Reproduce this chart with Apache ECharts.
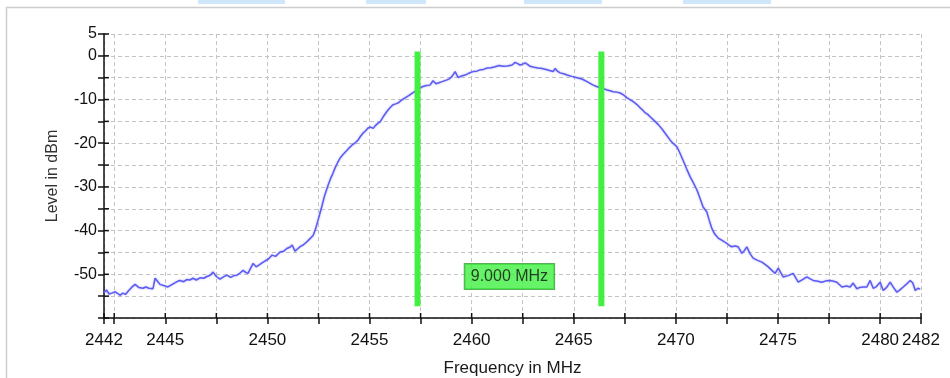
<!DOCTYPE html>
<html>
<head>
<meta charset="utf-8">
<script src="https://cdn.jsdelivr.net/npm/echarts@6/dist/echarts.min.js"></script>
<style>
  html, body { margin: 0; padding: 0; background: #ffffff; }
  #chart { width: 950px; height: 378px; }
</style>
</head>
<body>
<div id="chart"></div>
<script>
// Measured spectrum trace: frequency (MHz) and level (dBm)
const freqMHz = [
  2442.00, 2442.12, 2442.25, 2442.38, 2442.55, 2442.68, 2442.78, 2442.92, 2443.05, 2443.19,
  2443.35, 2443.52, 2443.70, 2443.91, 2444.05, 2444.20, 2444.40, 2444.50, 2444.62, 2444.74,
  2444.95, 2445.13, 2445.30, 2445.45, 2445.60, 2445.72, 2445.90, 2446.05, 2446.20, 2446.36,
  2446.52, 2446.70, 2446.88, 2447.04, 2447.20, 2447.34, 2447.50, 2447.68, 2447.85, 2448.02,
  2448.20, 2448.36, 2448.51, 2448.66, 2448.81, 2448.95, 2449.05, 2449.18, 2449.30, 2449.45,
  2449.58, 2449.74, 2449.90, 2450.05, 2450.23, 2450.40, 2450.62, 2450.80, 2450.95, 2451.10,
  2451.21, 2451.35, 2451.50, 2451.62, 2451.75, 2451.90, 2452.05, 2452.24, 2452.36, 2452.48,
  2452.58, 2452.68, 2452.80, 2452.97, 2453.10, 2453.20, 2453.31, 2453.44, 2453.56, 2453.70,
  2453.90, 2454.02, 2454.15, 2454.30, 2454.44, 2454.56, 2454.68, 2454.80, 2454.93, 2455.05,
  2455.18, 2455.30, 2455.42, 2455.52, 2455.66, 2455.84, 2456.00, 2456.15, 2456.28, 2456.40,
  2456.55, 2456.74, 2456.92, 2457.13, 2457.25, 2457.38, 2457.50, 2457.62, 2457.78, 2457.96,
  2458.11, 2458.25, 2458.36, 2458.55, 2458.80, 2458.92, 2459.04, 2459.19, 2459.34, 2459.50,
  2459.68, 2459.85, 2460.07, 2460.25, 2460.41, 2460.58, 2460.76, 2460.95, 2461.15, 2461.35,
  2461.54, 2461.75, 2461.98, 2462.13, 2462.25, 2462.37, 2462.50, 2462.62, 2462.75, 2462.86,
  2463.05, 2463.25, 2463.45, 2463.69, 2463.85, 2463.99, 2464.09, 2464.20, 2464.33, 2464.50,
  2464.67, 2464.90, 2465.16, 2465.40, 2465.65, 2465.80, 2465.95, 2466.12, 2466.29, 2466.45,
  2466.63, 2466.78, 2466.93, 2467.10, 2467.27, 2467.45, 2467.61, 2467.75, 2467.91, 2468.08,
  2468.25, 2468.37, 2468.49, 2468.62, 2468.75, 2468.98, 2469.15, 2469.33, 2469.50, 2469.72,
  2469.88, 2470.05, 2470.20, 2470.35, 2470.52, 2470.70, 2470.85, 2471.03, 2471.18, 2471.33,
  2471.51, 2471.63, 2471.76, 2471.90, 2472.07, 2472.28, 2472.49, 2472.62, 2472.74, 2472.90,
  2473.05, 2473.23, 2473.35, 2473.47, 2473.62, 2473.78, 2474.00, 2474.21, 2474.38, 2474.52,
  2474.70, 2474.86, 2475.01, 2475.25, 2475.50, 2475.74, 2475.99, 2476.20, 2476.41, 2476.55,
  2476.72, 2476.95, 2477.15, 2477.35, 2477.55, 2477.72, 2477.88, 2478.13, 2478.35, 2478.53,
  2478.68, 2478.86, 2479.00, 2479.17, 2479.35, 2479.51, 2479.66, 2479.82, 2480.00, 2480.15,
  2480.32, 2480.49, 2480.65, 2480.82, 2480.98, 2481.13, 2481.30, 2481.47, 2481.60, 2481.72,
  2481.85, 2481.96
];
const levelDbm = [
  -54.2, -53.6, -54.5, -54.3, -54.0, -54.4, -54.8, -54.3, -54.6, -53.8,
  -53.0, -52.3, -53.0, -53.2, -52.9, -53.2, -53.3, -50.9, -51.6, -52.3,
  -52.6, -52.9, -52.4, -52.0, -51.6, -51.4, -51.7, -51.2, -51.3, -50.9,
  -51.3, -50.8, -50.9, -50.5, -50.2, -49.5, -50.5, -51.1, -50.6, -50.2,
  -50.7, -50.3, -50.2, -49.7, -49.1, -49.6, -49.8, -48.6, -47.5, -48.3,
  -47.9, -47.4, -46.9, -46.5, -45.6, -45.9, -44.9, -44.7, -44.1, -43.8,
  -43.3, -44.7, -44.1, -43.6, -43.3, -42.7, -42.0, -41.1, -39.6, -37.6,
  -35.9, -34.2, -32.0, -29.6, -28.0, -27.0, -25.7, -24.4, -23.4, -22.6,
  -21.6, -21.0, -20.4, -19.9, -19.3, -18.4, -17.7, -17.2, -16.5, -16.3,
  -16.6, -15.9, -15.4, -15.1, -14.0, -12.8, -11.9, -11.2, -11.0, -10.8,
  -10.2, -9.6, -9.1, -8.4, -8.1, -7.6, -7.3, -7.0, -6.8, -6.7,
  -5.7, -6.4, -6.2, -5.9, -5.5, -5.2, -4.7, -3.6, -5.0, -4.6,
  -4.4, -4.0, -3.6, -3.5, -3.2, -3.1, -2.8, -2.7, -2.5, -2.2,
  -2.4, -2.3, -2.1, -1.5, -1.8, -2.1, -1.9, -1.6, -2.0, -2.4,
  -2.6, -2.8, -2.9, -3.2, -3.4, -3.6, -2.9, -3.5, -3.9, -4.1,
  -4.4, -4.7, -5.0, -5.3, -5.9, -6.3, -6.7, -7.0, -7.3, -7.5,
  -7.8, -8.0, -8.2, -8.3, -8.5, -9.0, -9.6, -10.0, -10.5, -11.1,
  -11.9, -12.4, -13.0, -13.4, -14.0, -15.0, -15.8, -16.8, -17.9, -19.3,
  -20.1, -20.8, -22.3, -23.9, -25.8, -27.7, -29.0, -30.7, -32.6, -34.6,
  -35.7, -37.6, -39.5, -40.8, -41.7, -42.3, -42.9, -43.4, -43.7, -43.5,
  -43.7, -45.2, -44.6, -43.7, -45.2, -46.3, -46.8, -47.2, -47.8, -48.3,
  -49.1, -49.8, -48.6, -50.6, -50.3, -49.8, -51.8, -51.2, -50.6, -51.0,
  -51.4, -51.6, -51.8, -51.5, -51.4, -51.6, -51.8, -52.9, -52.7, -52.9,
  -52.0, -53.3, -53.0, -52.9, -52.9, -51.4, -53.2, -52.8, -51.8, -53.7,
  -53.0, -51.8, -53.0, -54.1, -53.5, -52.9, -52.2, -51.4, -52.0, -53.7,
  -53.2, -53.4
];

// Bandwidth markers (MHz) and their vertical extent (dBm)
const markerFreqs = [2457.35, 2466.35];
const markerTop = 1.0;
const markerBottom = -57.3;
const spanText = '9.000 MHz';
const spanLabelLevel = -50.5;

// Axis ranges, ticks and labels
const xMin = 2442, xMax = 2482;
const xTickValues = [2442, 2442.5, 2445, 2447.5, 2450, 2452.5, 2455, 2457.5, 2460, 2462.5,
  2465, 2467.5, 2470, 2472.5, 2475, 2477.5, 2480, 2482];
const xLabelValues = [2442, 2445, 2450, 2455, 2460, 2465, 2470, 2475, 2480, 2482];
const yMin = -60, yMax = 5, yStep = 5;
const yTickValues = [5, 0, -5, -10, -15, -20, -25, -30, -35, -40, -45, -50, -55, -60];
const yLabelValues = [5, 0, -10, -20, -30, -40, -50];

const FONT = '"Liberation Sans", Arial, sans-serif';
const chart = echarts.init(document.getElementById('chart'), null, { renderer: 'canvas' });

const trace = freqMHz.map((f, i) => [f, levelDbm[i]]);
const spanCenter = (markerFreqs[0] + markerFreqs[1]) / 2;

const gridLine = { show: true, lineStyle: { color: '#c4c4c4', width: 1, type: [4, 3] } };
const tickStyle = { stroke: '#111', lineWidth: 1.5 };
const INNER_TICK = 5;

// Tick stubs on the plot side of both axes, so every tick crosses its axis line
function innerTicks(params, api) {
  const children = [];
  xTickValues.forEach(v => {
    const p = api.coord([v, yMin]);
    children.push({ type: 'line', shape: { x1: p[0], y1: p[1], x2: p[0], y2: p[1] - INNER_TICK }, style: tickStyle });
  });
  yTickValues.forEach(v => {
    const p = api.coord([xMin, v]);
    children.push({ type: 'line', shape: { x1: p[0], y1: p[1], x2: p[0] + INNER_TICK, y2: p[1] }, style: tickStyle });
  });
  return { type: 'group', children };
}

chart.setOption({
  animation: false,
  backgroundColor: '#ffffff',
  graphic: [
    // window strip along the top edge
    { type: 'rect', shape: { x: 198, y: 0, width: 87, height: 4 }, style: { fill: '#cfe6fb' }, silent: true },
    { type: 'rect', shape: { x: 366, y: 0, width: 60, height: 4 }, style: { fill: '#cfe6fb' }, silent: true },
    { type: 'rect', shape: { x: 524, y: 0, width: 78, height: 4 }, style: { fill: '#cfe6fb' }, silent: true },
    { type: 'rect', shape: { x: 683, y: 0, width: 88, height: 4 }, style: { fill: '#cfe6fb' }, silent: true },
    // panel frame
    { type: 'rect', shape: { x: 6.5, y: 7.5, width: 1000, height: 500 },
      style: { fill: 'none', stroke: '#cdcdcd', lineWidth: 1.5 }, silent: true }
  ],
  grid: { left: 104, right: 29, top: 34, bottom: 60, containLabel: false, outerBoundsMode: 'none' },
  xAxis: {
    type: 'value', position: 'bottom', min: xMin, max: xMax,
    name: 'Frequency in MHz', nameLocation: 'middle', nameGap: 42,
    nameTextStyle: { fontFamily: FONT, fontSize: 17, color: '#1a1a1a' },
    axisLine: { show: true, onZero: false, lineStyle: { color: '#111', width: 1.5 } },
    axisTick: { show: true, inside: false, length: 6, customValues: xTickValues,
      lineStyle: { color: '#111', width: 1.5 } },
    axisLabel: { show: true, customValues: xLabelValues, margin: 14,
      fontFamily: FONT, fontSize: 17, color: '#111',
      formatter: v => String(v),
      showMinLabel: true, showMaxLabel: true, hideOverlap: false },
    splitLine: gridLine
  },
  yAxis: {
    type: 'value', position: 'left', min: yMin, max: yMax, interval: yStep,
    name: 'Level in dBm', nameLocation: 'middle', nameGap: 43, nameRotate: 90,
    nameTextStyle: { fontFamily: FONT, fontSize: 16, color: '#333' },
    axisLine: { show: true, onZero: false, lineStyle: { color: '#111', width: 1.5 } },
    axisTick: { show: true, inside: false, length: 6, lineStyle: { color: '#111', width: 1.5 } },
    axisLabel: {
      show: true, margin: 7, fontFamily: FONT, fontSize: 16, color: '#111',
      formatter: v => (yLabelValues.indexOf(v) >= 0 ? String(v) : '')
    },
    splitLine: gridLine
  },
  series: [
    {
      type: 'custom', renderItem: innerTicks, data: [[xMin, yMin]],
      silent: true, clip: false, z: 6
    },
    {
      name: 'Level', type: 'line',
      data: trace, showSymbol: false, symbol: 'none', smooth: false,
      lineStyle: { color: '#5c5cf3', width: 1.5, shadowColor: 'rgba(92,92,243,0.5)', shadowBlur: 2 },
      z: 3
    },
    ...markerFreqs.map(f => ({
      type: 'line',
      data: [[f, markerTop], [f, markerBottom]],
      symbol: 'none', lineStyle: { color: '#41f041', width: 6 }, z: 4
    })),
    {
      type: 'scatter',
      data: [[spanCenter, spanLabelLevel]], symbolSize: 0, z: 5,
      label: {
        show: true, position: 'inside', formatter: spanText,
        fontFamily: FONT, fontSize: 16, color: '#111',
        backgroundColor: '#41f041', borderColor: '#2d9b2d', borderWidth: 1,
        padding: [5, 6, 4, 6]
      }
    }
  ]
});
</script>
</body>
</html>
